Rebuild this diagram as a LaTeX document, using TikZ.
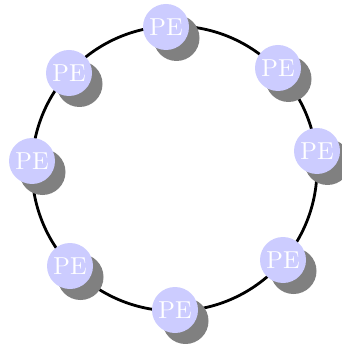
\documentclass[tikz,border=0pt]{standalone}
\usetikzlibrary{shadows}
\newcommand{\petext}{\scalebox{2.45}{\fontsize{10}{12}\selectfont PE}}
\begin{document}
\begin{tikzpicture}[x=1pt,y=-1pt,
  pe/.style={circle, fill=blue!20, text=white, minimum size=46pt, inner sep=0pt,
    drop shadow={shadow xshift=10.5pt, shadow yshift=-11pt, fill=gray, opacity=1}},
  ring/.style={line width=2.8pt, black}]
\useasboundingbox (0,0) rectangle (341,344);
\coordinate (c) at (174.5,168.5);
\draw[ring] (c) circle[radius=142.5pt];
\node[pe] (p1) at (166,27) {\petext};
\node[pe] (p2) at (278,68) {\petext};
\node[pe] (p3) at (317,151) {\petext};
\node[pe] (p4) at (283,260) {\petext};
\node[pe] (p5) at (175,310) {\petext};
\node[pe] (p6) at (70,266) {\petext};
\node[pe] (p7) at (32,161) {\petext};
\node[pe] (p8) at (69,73) {\petext};
\end{tikzpicture}
\end{document}
